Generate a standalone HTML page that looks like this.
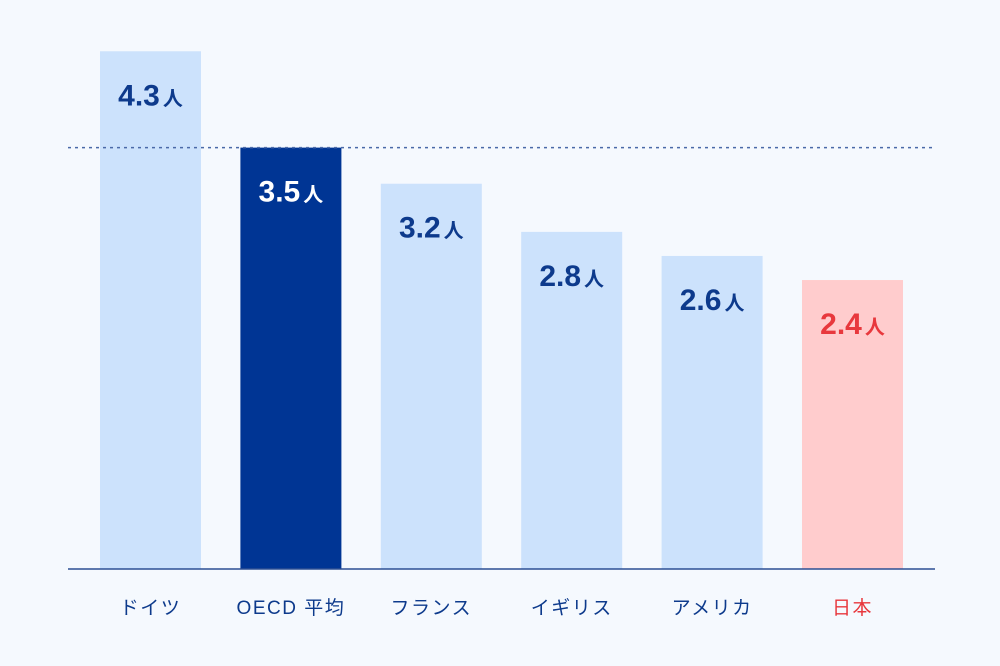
<!DOCTYPE html>
<html><head><meta charset="utf-8">
<style>
html,body{margin:0;padding:0;background:#f5f9fe;}
svg{display:block;font-family:"Liberation Sans","Noto Sans CJK JP",sans-serif;}
</style></head>
<body>
<svg id="chart" width="1000" height="666" viewBox="0 0 1000 666">
<rect x="0" y="0" width="1000" height="666" fill="#f5f9fe"/>
<g id="bars"></g>
<line id="avg-line" x1="68" x2="935" stroke="#4a6aa8" stroke-width="1.5" stroke-dasharray="3,4"/>
<line x1="68" x2="935" y1="569" y2="569" stroke="#2c4f94" stroke-width="1.5"/>
<g id="labels"></g>
</svg>
<script>
const categories = ["ドイツ","OECD 平均","フランス","イギリス","アメリカ","日本"];
const values = [4.3,3.5,3.2,2.8,2.6,2.4];
const valueLabels = ["4.3","3.5","3.2","2.8","2.6","2.4"];
const avgValue = 3.5;

const NS = "http://www.w3.org/2000/svg";
const baseY = 569, pxPerUnit = 120.4;
const firstX = 100, step = 140.4, barW = 101;
function yScale(v){ return baseY - v * pxPerUnit; }
function xScale(i){ return firstX + i * step; }
const bars = document.getElementById('bars');
const labels = document.getElementById('labels');
const avg = document.getElementById('avg-line');
avg.setAttribute('y1', yScale(avgValue));
avg.setAttribute('y2', yScale(avgValue));
categories.forEach((c,i)=>{
  const isAvg = i===1, isJp = c==="日本";
  const fill = isAvg ? "#003594" : isJp ? "#ffcccd" : "#cce2fc";
  const txtCol = isAvg ? "#ffffff" : isJp ? "#e8383d" : "#0d3a8c";
  const x = xScale(i), y = yScale(values[i]);
  const r = document.createElementNS(NS,'rect');
  
  
  r.setAttribute('x', x); r.setAttribute('y', y);
  r.setAttribute('width', barW); r.setAttribute('height', baseY - y);
  r.setAttribute('fill', fill);
  bars.appendChild(r);
  const t = document.createElementNS(NS,'text');
  
  
  t.setAttribute('x', x + barW/2); t.setAttribute('y', y + 54);
  t.setAttribute('text-anchor', 'middle');
  t.setAttribute('fill', txtCol);
  t.setAttribute('font-weight', 'bold');
  const n = document.createElementNS(NS,'tspan');
  n.setAttribute('font-size', '30'); n.textContent = valueLabels[i];
  const u = document.createElementNS(NS,'tspan');
  u.setAttribute('font-size', '20'); u.setAttribute('dx', '3'); u.textContent = "人";
  t.appendChild(n); t.appendChild(u);
  labels.appendChild(t);
  const c2 = document.createElementNS(NS,'text');
  
  
  c2.setAttribute('x', x + barW/2); c2.setAttribute('y', 614);
  c2.setAttribute('text-anchor', 'middle');
  c2.setAttribute('font-size', '19');
  c2.setAttribute('letter-spacing', '1.5');
  c2.setAttribute('fill', isJp ? "#e8383d" : "#0d3a8c");
  c2.textContent = c;
  labels.appendChild(c2);
});
</script>
</body></html>
